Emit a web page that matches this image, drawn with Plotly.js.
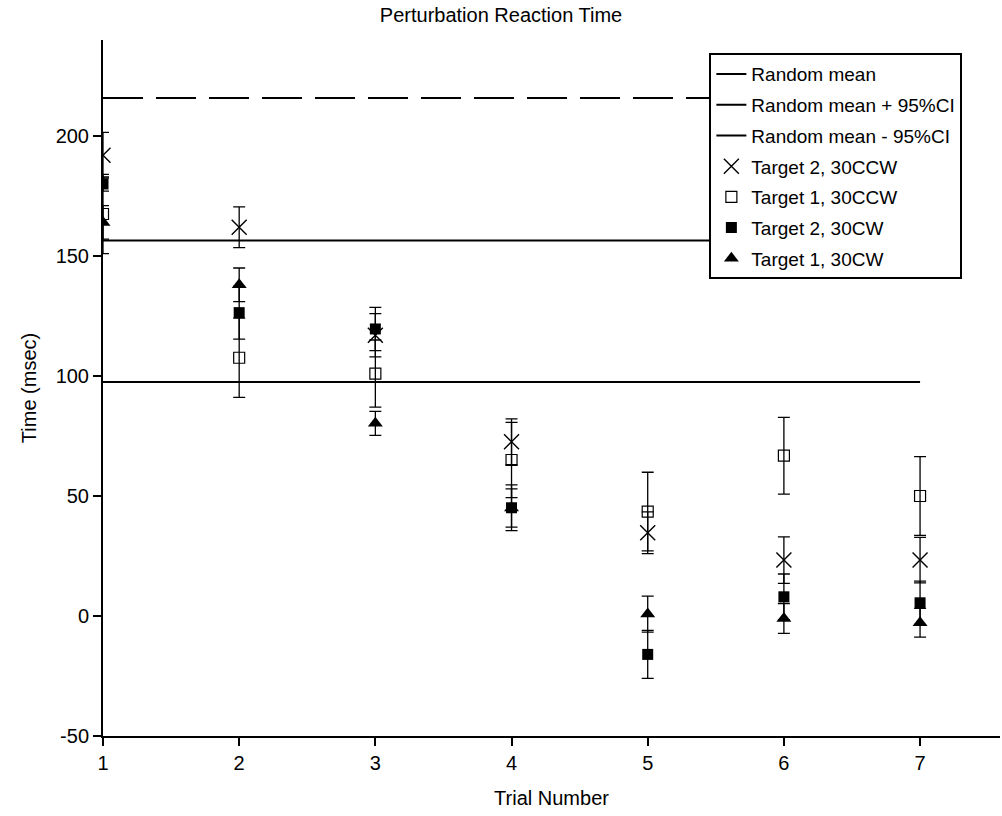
<!DOCTYPE html>
<html>
<head>
<meta charset="utf-8">
<script src="https://cdn.plot.ly/plotly-3.0.1.min.js"></script>
<style>html,body{margin:0;padding:0;background:#fff;}#chart{width:1002px;height:816px;}</style>
</head>
<body>
<div id="chart"></div>
<script>
const trials = [1, 2, 3, 4, 5, 6, 7];
const lineX = [1, 7];
const randomMean = 156.5;
const randomMeanPlusCI = 215.8;
const randomMeanMinusCI = 97.5;

const yTicks = [-50, 0, 50, 100, 150, 200];
const yTickText = ['-50', '0', '50', '100', '150', '200'];

const t2ccw = [192, 162, 117, 72.6, 34.7, 23.3, 23.3];
const t2ccwErr = [9.5, 8.5, 9, 9.5, 8.7, 9.7, 9.5];
const t1ccw = [167.5, 107.6, 101, 65, 43.5, 66.8, 50];
const t1ccwErr = [16.5, 16.5, 14, 15.7, 16.4, 16, 16.4];
const t2cw = [180, 126.4, 119.6, 45.1, -16, 8, 5.5];
const t2cwErr = [3, 11, 9, 9.5, 10, 9.5, 9];
const t1cw = [164, 138, 80.3, 45, 0.8, -1, -2.8];
const t1cwErr = [7, 7, 5, 8, 7.5, 6.2, 6];

const font = "Liberation Sans, Arial, sans-serif";
function errBar(arr) {
  return {type: 'data', array: arr, visible: true, color: '#000', thickness: 1.3, width: 6};
}

const traces = [
  {x: lineX, y: [randomMean, randomMean], mode: 'lines', name: 'Random mean', legendgroup: 'a',
   line: {color: '#000', width: 2}},
  {x: lineX, y: [randomMeanPlusCI, randomMeanPlusCI], mode: 'lines', name: 'Random mean + 95%CI', legendgroup: 'b',
   line: {color: '#000', width: 2, dash: '40px,13px'}},
  {x: lineX, y: [randomMeanMinusCI, randomMeanMinusCI], mode: 'lines', name: 'Random mean - 95%CI', legendgroup: 'c',
   line: {color: '#000', width: 2}},
  {x: trials, y: t2ccw, mode: 'markers', name: 'Target 2, 30CCW', legendgroup: 'd', error_y: errBar(t2ccwErr),
   marker: {symbol: 'x-thin-open', size: 15, color: '#000', line: {color: '#000', width: 1.4}}},
  {x: trials, y: t1ccw, mode: 'markers', name: 'Target 1, 30CCW', legendgroup: 'e', error_y: errBar(t1ccwErr),
   marker: {symbol: 'square-open', size: 11, color: '#000', line: {color: '#000', width: 1.2}}},
  {x: trials, y: t2cw, mode: 'markers', name: 'Target 2, 30CW', legendgroup: 'f', error_y: errBar(t2cwErr),
   marker: {symbol: 'square', size: 11, color: '#000'}},
  {x: trials, y: t1cw, mode: 'markers', name: 'Target 1, 30CW', legendgroup: 'g', error_y: errBar(t1cwErr),
   marker: {symbol: 'triangle-up', size: 13, color: '#000'}}
];

const layout = {
  width: 1002, height: 816,
  margin: {l: 103, r: 2, t: 40, b: 80},
  paper_bgcolor: '#fff', plot_bgcolor: '#fff',
  font: {family: font, size: 19, color: '#000'},
  title: {text: 'Perturbation Reaction Time', x: 0.5, xref: 'container', y: 0.982, yref: 'container', yanchor: 'middle',
          font: {family: font, size: 20, color: '#000'}},
  xaxis: {range: [1, 7.587], tickvals: trials, ticktext: trials.map(String), showgrid: false, zeroline: false,
          showline: true, linecolor: '#000', linewidth: 2, ticks: 'outside', ticklen: 8, tickwidth: 2,
          tickcolor: '#000', tickfont: {family: font, size: 20},
          title: {text: 'Trial Number', standoff: 18, font: {family: font, size: 20}}},
  yaxis: {range: [-50, 240], tickvals: yTicks, ticktext: yTickText, showgrid: false, zeroline: false,
          showline: true, linecolor: '#000', linewidth: 2, ticks: 'outside', ticklen: 8, tickwidth: 2,
          tickcolor: '#000', tickfont: {family: font, size: 20},
          title: {text: 'Time (msec)', standoff: 14, font: {family: font, size: 20}}},
  showlegend: true,
  legend: {x: 0.676, y: 0.981, xanchor: 'left', yanchor: 'top', bgcolor: '#fff', bordercolor: '#000', borderwidth: 2,
           font: {family: font, size: 19, color: '#000'}, tracegroupgap: 3, traceorder: 'grouped'}
};

Plotly.newPlot('chart', traces, layout, {displayModeBar: false, staticPlot: true});
</script>
</body>
</html>
